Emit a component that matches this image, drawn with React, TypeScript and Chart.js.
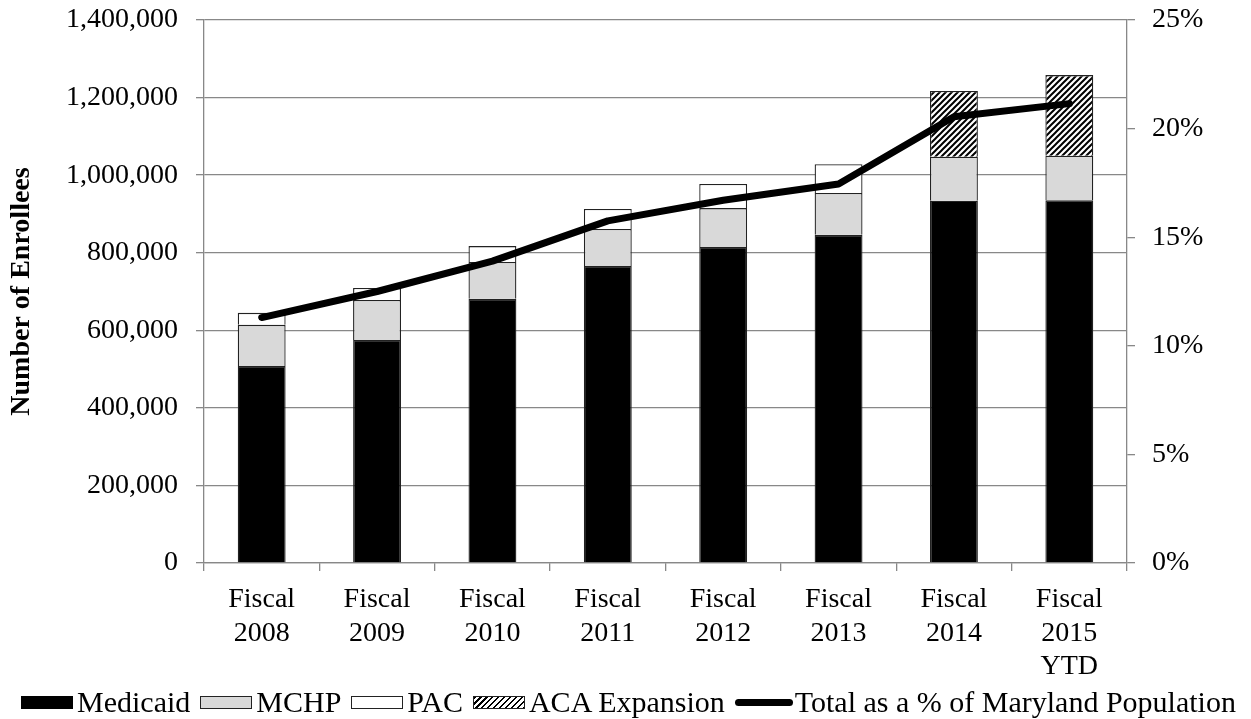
import React, { useEffect, useRef } from "react";
import { Chart, registerables } from "chart.js";
Chart.register(...registerables);

const categories: string[][] = [
  ["Fiscal", "2008"],
  ["Fiscal", "2009"],
  ["Fiscal", "2010"],
  ["Fiscal", "2011"],
  ["Fiscal", "2012"],
  ["Fiscal", "2013"],
  ["Fiscal", "2014"],
  ["Fiscal", "2015", "YTD"],
];
const medicaid = [508000, 575000, 681000, 766000, 815000, 846000, 934000, 935000];
const mchp = [106000, 103000, 95000, 95000, 100000, 108000, 113500, 115000];
const pac = [31000, 31000, 41000, 52000, 62000, 74000, 0, 0];
const acaExpansion = [0, 0, 0, 0, 0, 0, 169500, 208000];
const pctOfPopulation = [11.3, 12.5, 13.9, 15.75, 16.7, 17.45, 20.55, 21.15];

const FONT = "'Liberation Serif', 'Times New Roman', serif";
const GRID = "#888888";

function makeHatch(): CanvasPattern | string {
  const c = document.createElement("canvas");
  c.width = 6;
  c.height = 6;
  const g = c.getContext("2d");
  if (!g) return "#000";
  g.fillStyle = "#fff";
  g.fillRect(0, 0, 6, 6);
  g.strokeStyle = "#000";
  g.lineWidth = 2;
  g.beginPath();
  g.moveTo(-1, 7);
  g.lineTo(7, -1);
  g.moveTo(-1, 1);
  g.lineTo(1, -1);
  g.moveTo(5, 7);
  g.lineTo(7, 5);
  g.stroke();
  return g.createPattern(c, "repeat") || "#000";
}

const hatchCss =
  "repeating-linear-gradient(135deg, #000 0px, #000 1.5px, #fff 1.5px, #fff 4.2px)";

export default function App() {
  const ref = useRef<HTMLCanvasElement>(null);
  useEffect(() => {
    document.body.style.margin = "0";
    if (!ref.current) return;
    const hatch = makeHatch();
    const tickFont = { family: FONT, size: 28 };
    const chart = new Chart(ref.current, {
      type: "bar",
      data: {
        labels: categories,
        datasets: [
          {
            type: "line",
            label: "Total as a % of Maryland Population",
            data: pctOfPopulation,
            yAxisID: "y1",
            borderColor: "#000",
            backgroundColor: "#000",
            borderWidth: 7,
            pointRadius: 0,
            borderCapStyle: "round",
            borderJoinStyle: "round",
            tension: 0,
            order: 0,
          } as any,
          {
            label: "Medicaid",
            data: medicaid,
            backgroundColor: "#000",
            borderColor: "#222",
            borderWidth: 1.3,
            stack: "s",
            order: 1,
          },
          {
            label: "MCHP",
            data: mchp,
            backgroundColor: "#d9d9d9",
            borderColor: "#222",
            borderWidth: 1.3,
            stack: "s",
            order: 1,
          },
          {
            label: "PAC",
            data: pac,
            backgroundColor: "#fff",
            borderColor: "#222",
            borderWidth: 1.3,
            stack: "s",
            order: 1,
          },
          {
            label: "ACA Expansion",
            data: acaExpansion,
            backgroundColor: hatch as any,
            borderColor: "#222",
            borderWidth: 1.3,
            stack: "s",
            order: 1,
          },
        ],
      },
      options: {
        responsive: false,
        animation: false,
        layout: { padding: { top: 20, bottom: 30, left: 0, right: 0 } },
        datasets: { bar: { barPercentage: 0.415, categoryPercentage: 1 } },
        plugins: {
          legend: { display: false },
          tooltip: { enabled: false },
        },
        scales: {
          x: {
            stacked: true,
            grid: {
              display: true,
              drawOnChartArea: false,
              drawTicks: true,
              tickLength: 8,
              color: GRID,
              lineWidth: 1.3,
              offset: true,
            },
            border: { color: GRID, width: 1.3 },
            ticks: {
              font: tickFont,
              color: "#000",
              padding: 12,
              maxRotation: 0,
              autoSkip: false,
            },
            afterFit: (s: any) => {
              s.height = 126;
              s.paddingLeft = 0;
              s.paddingRight = 0;
            },
          },
          y: {
            stacked: true,
            min: 0,
            max: 1400000,
            grid: { color: GRID, lineWidth: 1.3, tickLength: 8 },
            border: { color: GRID, width: 1.3 },
            ticks: {
              stepSize: 200000,
              font: tickFont,
              color: "#000",
              padding: 18,
              callback: (v: any) => Number(v).toLocaleString("en-US"),
            },
            title: {
              display: true,
              text: "Number of Enrollees",
              font: { family: FONT, size: 28, weight: "bold" },
              color: "#000",
              padding: { top: 5, bottom: 0 },
            },
            afterFit: (s: any) => {
              s.width = 204;
              s.paddingTop = 0;
              s.paddingBottom = 0;
            },
          },
          y1: {
            position: "right",
            min: 0,
            max: 25,
            grid: {
              drawOnChartArea: false,
              color: GRID,
              lineWidth: 1.3,
              tickLength: 8,
            },
            border: { color: GRID, width: 1.3 },
            ticks: {
              stepSize: 5,
              font: tickFont,
              color: "#000",
              padding: 17,
              callback: (v: any) => v + "%",
            },
            afterFit: (s: any) => {
              s.width = 124;
              s.paddingTop = 0;
              s.paddingBottom = 0;
            },
          },
        },
      } as any,
    });
    return () => chart.destroy();
  }, []);

  const itemStyle: React.CSSProperties = {
    display: "flex",
    alignItems: "center",
    marginRight: 10,
  };
  const box = (bg: string, border: boolean): React.CSSProperties => ({
    width: 52,
    height: 13,
    background: bg,
    border: border ? "1.3px solid #222" : "none",
    boxSizing: "border-box",
    marginRight: 4,
  });

  return (
    <div style={{ position: "relative", width: 1251, height: 719 }}>
      <canvas ref={ref} width={1251} height={719} />
      <div
        style={{
          position: "absolute",
          left: 21,
          top: 684,
          width: 1230,
          height: 36,
          display: "flex",
          justifyContent: "flex-start",
          alignItems: "center",
          fontFamily: FONT,
          fontSize: 30,
          color: "#000",
          whiteSpace: "nowrap",
        }}
      >
        <div style={itemStyle}>
          <div style={box("#000", false)} />
          <span>Medicaid</span>
        </div>
        <div style={itemStyle}>
          <div style={box("#d9d9d9", true)} />
          <span>MCHP</span>
        </div>
        <div style={itemStyle}>
          <div style={box("#fff", true)} />
          <span>PAC</span>
        </div>
        <div style={itemStyle}>
          <div style={box(hatchCss, true)} />
          <span>ACA Expansion</span>
        </div>
        <div style={{ ...itemStyle, marginRight: 0 }}>
          <div
            style={{
              width: 58,
              height: 7,
              borderRadius: 4,
              background: "#000",
              marginRight: 2,
            }}
          />
          <span>Total as a % of Maryland Population</span>
        </div>
      </div>
    </div>
  );
}
